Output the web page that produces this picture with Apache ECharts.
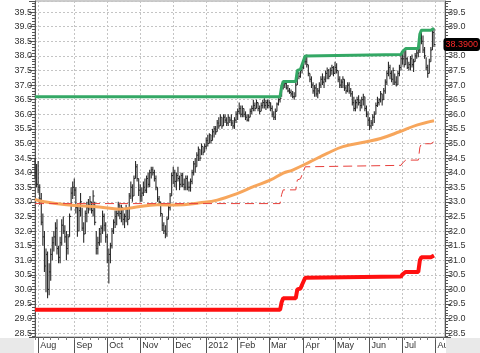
<!DOCTYPE html>
<html>
<head>
<meta charset="utf-8">
<script src="https://cdn.jsdelivr.net/npm/echarts@6/dist/echarts.min.js"></script>
<style>
  html, body { margin: 0; padding: 0; background: #fff; }
  #main { width: 480px; height: 353px; }
</style>
</head>
<body>
<div id="main"></div>
<script>
// month labels under the axis, and trading days per month
var monthLabels = ['Aug', 'Sep', 'Oct', 'Nov', 'Dec', '2012', 'Feb', 'Mar', 'Apr', 'May', 'Jun', 'Jul', 'Aug'];
var monthDays = [23, 21, 21, 21, 21, 20, 20, 22, 20, 22, 21, 21, 7];
var leadDays = 2; // last days of Jul 2011

// daily bars: [high, low, close]
var jul11 = [[34.5, 33.8, 34.0], [34.3, 33.5, 33.6]];
var aug11 = [[34.4, 33.3, 33.5], [33.6, 32.9, 33.1], [33.3, 32.2, 32.3], [32.6, 31.5, 31.8], [32.0, 30.6, 30.8],
  [31.4, 29.9, 31.2], [31.3, 29.7, 30.0], [30.9, 29.8, 30.6], [31.4, 30.3, 31.2], [31.8, 31.0, 31.6],
  [32.0, 31.3, 31.8], [32.3, 31.5, 32.1], [32.4, 31.2, 31.4], [31.5, 30.9, 31.1], [31.8, 30.9, 31.6],
  [32.4, 31.5, 32.2], [32.5, 31.9, 32.0], [32.2, 31.6, 31.8], [32.0, 31.0, 31.4], [31.9, 31.2, 31.8],
  [32.6, 31.8, 32.5], [33.5, 32.7, 33.3], [33.7, 33.1, 33.5]];
var sep11 = [[33.8, 33.2, 33.4], [33.5, 32.6, 32.8], [32.9, 31.8, 32.0], [32.9, 32.0, 32.7], [33.3, 32.5, 33.0],
  [32.8, 32.0, 32.1], [32.3, 31.6, 31.9], [32.7, 31.9, 32.6], [33.0, 32.3, 32.8], [33.1, 32.6, 32.9],
  [33.2, 32.7, 33.0], [33.0, 32.6, 32.7], [33.4, 32.5, 33.2], [33.0, 32.2, 32.3], [32.0, 31.2, 31.4],
  [31.8, 31.2, 31.6], [32.1, 31.5, 31.9], [32.2, 31.6, 32.1], [32.7, 31.9, 32.5], [32.6, 32.0, 32.2],
  [32.3, 31.6, 31.8]];
var oct11 = [[31.9, 30.9, 31.0], [31.4, 30.2, 31.2], [31.6, 30.9, 31.5], [32.1, 31.4, 32.0], [32.4, 31.9, 32.3],
  [32.7, 32.1, 32.5], [32.7, 32.2, 32.6], [33.0, 32.5, 32.9], [32.9, 32.4, 32.6], [32.9, 32.3, 32.8],
  [32.8, 32.2, 32.4], [32.6, 32.1, 32.5], [32.9, 32.3, 32.8], [32.8, 32.2, 32.4], [33.3, 32.4, 33.2],
  [33.7, 33.1, 33.5], [33.6, 33.0, 33.2], [33.9, 33.2, 33.8], [34.4, 33.8, 34.2], [34.3, 33.7, 33.8],
  [33.8, 33.2, 33.4]];
var nov11 = [[33.6, 33.0, 33.2], [33.5, 33.0, 33.3], [33.7, 33.2, 33.5], [33.8, 33.3, 33.4], [33.9, 33.3, 33.8],
  [34.0, 33.5, 33.6], [34.1, 33.5, 34.0], [34.2, 33.8, 34.1], [34.2, 33.9, 34.0], [34.1, 33.7, 33.8],
  [33.9, 33.4, 33.5], [33.5, 33.0, 33.1], [33.2, 32.9, 33.0], [33.0, 32.5, 32.6], [32.6, 32.0, 32.2],
  [32.3, 31.9, 32.0], [32.2, 31.75, 31.9], [32.5, 31.8, 32.4], [32.9, 32.4, 32.8], [33.3, 32.7, 33.2],
  [34.0, 33.2, 33.9]];
var dec11 = [[34.2, 33.6, 34.0], [34.1, 33.5, 33.7], [34.0, 33.4, 33.9], [34.2, 33.7, 33.8], [33.9, 33.4, 33.6],
  [34.0, 33.5, 33.9], [34.0, 33.5, 33.6], [33.8, 33.4, 33.5], [33.9, 33.4, 33.8], [33.9, 33.4, 33.5],
  [33.7, 33.35, 33.5], [33.8, 33.35, 33.7], [34.1, 33.6, 34.0], [34.4, 33.9, 34.3], [34.5, 34.0, 34.2],
  [34.7, 34.2, 34.6], [34.9, 34.4, 34.8], [34.8, 34.4, 34.5], [35.0, 34.6, 34.9], [34.9, 34.6, 34.7],
  [35.0, 34.7, 34.9]];
var jan12 = [[35.2, 34.8, 35.1], [35.3, 34.9, 35.0], [35.35, 35.0, 35.3], [35.3, 35.0, 35.1], [35.5, 35.1, 35.4],
  [35.6, 35.2, 35.5], [35.6, 35.3, 35.4], [35.8, 35.4, 35.7], [35.9, 35.5, 35.6], [36.0, 35.6, 35.9],
  [35.9, 35.5, 35.6], [36.0, 35.6, 35.9], [36.0, 35.7, 35.8], [35.9, 35.6, 35.7], [36.0, 35.6, 35.9],
  [35.9, 35.7, 35.8], [36.0, 35.6, 35.7], [35.8, 35.5, 35.6], [35.9, 35.5, 35.8], [36.1, 35.7, 36.0]];
var feb12 = [[36.2, 35.8, 36.1], [36.4, 36.0, 36.2], [36.3, 35.9, 36.0], [36.3, 35.9, 36.2], [36.2, 35.9, 36.0],
  [36.1, 35.8, 35.9], [36.0, 35.75, 35.8], [36.0, 35.75, 35.9], [36.2, 35.9, 36.1], [36.3, 36.0, 36.2],
  [36.5, 36.1, 36.3], [36.4, 36.1, 36.2], [36.5, 36.2, 36.4], [36.4, 36.1, 36.2], [36.3, 36.0, 36.1],
  [36.4, 36.1, 36.3], [36.5, 36.2, 36.4], [36.55, 36.2, 36.3], [36.5, 36.15, 36.4], [36.5, 36.2, 36.3]];
var mar12 = [[36.5, 36.2, 36.4], [36.4, 36.1, 36.2], [36.3, 35.9, 36.0], [36.1, 35.8, 35.9], [36.2, 35.8, 36.1],
  [36.4, 36.1, 36.35], [36.55, 36.3, 36.5], [36.6, 36.4, 36.55], [36.95, 36.6, 36.9], [37.12, 36.85, 37.0],
  [37.1, 36.9, 37.05], [37.1, 36.85, 36.9], [37.0, 36.75, 36.8], [36.9, 36.7, 36.75], [36.85, 36.6, 36.7],
  [36.8, 36.55, 36.6], [36.75, 36.5, 36.6], [37.1, 36.6, 37.0], [37.5, 37.0, 37.4], [37.45, 37.2, 37.3],
  [37.54, 37.25, 37.5], [37.7, 37.4, 37.6]];
var apr12 = [[37.85, 37.55, 37.8], [38.0, 37.7, 37.8], [38.05, 37.6, 37.7], [37.7, 37.3, 37.4], [37.4, 37.1, 37.2],
  [37.3, 36.9, 37.0], [37.1, 36.7, 36.8], [37.0, 36.6, 36.9], [37.05, 36.6, 36.7], [36.9, 36.55, 36.8],
  [37.1, 36.7, 37.0], [37.3, 36.9, 37.2], [37.4, 37.0, 37.1], [37.3, 36.9, 37.2], [37.5, 37.1, 37.4],
  [37.6, 37.2, 37.5], [37.55, 37.2, 37.3], [37.6, 37.3, 37.5], [37.7, 37.35, 37.6], [37.65, 37.3, 37.4]];
var may12 = [[37.8, 37.4, 37.6], [37.75, 37.4, 37.5], [37.5, 37.1, 37.2], [37.3, 36.9, 37.0], [37.2, 36.9, 37.1],
  [37.3, 36.9, 37.2], [37.2, 36.8, 36.9], [37.0, 36.7, 36.8], [37.1, 36.75, 37.0], [37.1, 36.7, 36.8],
  [36.9, 36.6, 36.7], [36.8, 36.3, 36.4], [36.6, 36.1, 36.2], [36.5, 36.1, 36.4], [36.6, 36.2, 36.5],
  [36.65, 36.3, 36.4], [36.5, 36.1, 36.3], [36.6, 36.2, 36.5], [36.7, 36.3, 36.6], [36.6, 36.1, 36.2],
  [36.3, 35.9, 36.0], [36.1, 35.6, 35.8]];
var jun12 = [[35.9, 35.46, 35.6], [35.8, 35.5, 35.7], [36.0, 35.6, 35.9], [36.1, 35.7, 36.0], [36.4, 36.0, 36.3],
  [36.6, 36.25, 36.4], [36.55, 36.3, 36.5], [36.8, 36.4, 36.7], [36.7, 36.3, 36.5], [36.9, 36.5, 36.8],
  [37.2, 36.7, 37.1], [37.5, 37.0, 37.4], [37.8, 37.3, 37.6], [37.7, 37.2, 37.4], [37.5, 37.1, 37.2],
  [37.6, 37.0, 37.5], [37.4, 37.0, 37.1], [37.3, 36.95, 37.0], [37.5, 37.0, 37.4], [37.7, 37.3, 37.6],
  [38.05, 37.5, 37.9]];
var jul12 = [[38.15, 37.7, 37.9], [38.2, 37.6, 37.7], [38.25, 37.7, 37.9], [37.95, 37.55, 37.6], [37.8, 37.5, 37.7],
  [38.0, 37.5, 37.9], [38.05, 37.6, 37.7], [37.9, 37.45, 37.8], [38.1, 37.8, 38.0], [38.2, 37.9, 38.1],
  [38.25, 37.95, 38.2], [38.75, 38.1, 38.6], [38.88, 38.4, 38.5], [38.7, 38.1, 38.2], [38.3, 37.9, 38.0],
  [37.95, 37.5, 37.6], [37.7, 37.25, 37.4], [37.9, 37.4, 37.8], [38.3, 37.8, 38.2], [38.9, 38.2, 38.8],
  [38.95, 38.3, 38.39]];

// channel lines, [day index, value] at each change
var upperBand = [[0, 36.6], [156, 36.6], [157, 36.95], [158, 37.12], [166, 37.12], [167, 37.5], [169, 37.54],
  [170, 37.7], [171, 37.85], [172, 38.0], [173, 38.05], [233, 38.05], [234, 38.15], [236, 38.25], [244, 38.25],
  [245, 38.75], [246, 38.88], [252, 38.88], [254, 38.95]];
var midBand = [[0, 32.94], [156, 32.94], [157, 33.25], [158, 33.41], [166, 33.41], [167, 33.75], [169, 33.79],
  [170, 33.93], [171, 34.06], [172, 34.2], [173, 34.25], [233, 34.25], [234, 34.33], [236, 34.43], [244, 34.43],
  [245, 34.87], [246, 34.99], [252, 34.99], [254, 35.06]];
var lowerBand = [[0, 29.3], [156, 29.3], [157, 29.56], [158, 29.7], [166, 29.7], [167, 30.0], [169, 30.03],
  [170, 30.16], [171, 30.28], [172, 30.4], [173, 30.44], [233, 30.44], [234, 30.52], [236, 30.6], [244, 30.6],
  [245, 31.0], [246, 31.1], [252, 31.1], [254, 31.16]];
// moving average
var maLine = [[0, 33.08], [6, 33.0], [20, 32.9], [41, 32.82], [54, 32.75], [62, 32.8], [78, 32.9], [90, 32.89],
  [105, 32.97], [116, 33.06], [129, 33.29], [139, 33.52], [150, 33.75], [158, 33.98], [164, 34.09], [175, 34.37],
  [186, 34.66], [196, 34.89], [211, 35.06], [220, 35.17], [232, 35.4], [243, 35.63], [254, 35.78]];

var bars = [].concat(jul11, aug11, sep11, oct11, nov11, dec11, jan12, feb12, mar12, apr12, may12, jun12, jul12);
var lastClose = bars[bars.length - 1][2];

// trading day categories
var categories = [];
var labelAt = {};
for (var k = 0; k < leadDays; k++) categories.push('Jul-' + (k + 1));
for (var m = 0; m < monthDays.length; m++) {
  labelAt[categories.length] = monthLabels[m];
  for (var d = 0; d < monthDays[m]; d++) categories.push(m + '-' + (d + 1));
}
var barData = bars.map(function (b, i) { return [i, b[0], b[1], b[2]]; });

function isMonthStart(index) { return labelAt[index] !== undefined; }

var font = 'Liberation Sans, Arial, sans-serif';
var gridDash = { color: '#c4c4c4', type: [2, 2], width: 1 };

function yAxisOf(pos) {
  return {
    type: 'value', position: pos, min: 28.37, max: 39.88,
    splitNumber: 23, minInterval: 0.5, maxInterval: 0.5,
    axisLine: { show: true, lineStyle: { color: '#555' } },
    axisTick: { show: true, length: 6, lineStyle: { color: '#555' } },
    minorTick: { show: true, splitNumber: 5, length: 3, lineStyle: { color: '#555' } },
    axisLabel: {
      color: '#333', fontSize: 9, fontFamily: font, margin: 3,
      showMinLabel: false, showMaxLabel: false,
      formatter: function (v) { return v.toFixed(1); }
    },
    splitLine: { show: pos === 'left', lineStyle: gridDash }
  };
}

var myChart = echarts.init(document.getElementById('main'));
var left = yAxisOf('left');
var right = yAxisOf('right');
right.axisPointer = {
  show: true, type: 'line', value: lastClose, status: 'show', snap: false, triggerTooltip: false,
  lineStyle: { opacity: 0 },
  label: {
    show: true, precision: 4, backgroundColor: '#000', color: '#ff2a2a',
    fontSize: 9, fontFamily: font, padding: [2, 2, 2, 2], margin: 1
  }
};

myChart.setOption({
  animation: false,
  backgroundColor: '#fff',
  axisPointer: { triggerOn: 'none' },
  grid: { left: 35, right: 35, top: 1, bottom: 16, show: true, borderColor: '#999', borderWidth: 1 },
  xAxis: [{
    type: 'category', data: categories, boundaryGap: false,
    axisLine: { lineStyle: { color: '#555' } },
    axisTick: { interval: isMonthStart, length: 16, lineStyle: { color: '#555' } },
    axisLabel: {
      interval: isMonthStart, align: 'left', margin: 4, padding: [0, 0, 0, 2],
      color: '#333', fontSize: 9, fontFamily: font,
      formatter: function (v, i) { return labelAt[i] || ''; }
    },
    splitLine: { show: true, interval: isMonthStart, lineStyle: gridDash }
  }, {
    type: 'category', data: categories, boundaryGap: false, position: 'bottom',
    axisLine: { show: false },
    axisTick: { interval: 4, length: 3, lineStyle: { color: '#777' } },
    axisLabel: { show: false },
    splitLine: { show: false }
  }],
  yAxis: [left, right],
  graphic: [
    { type: 'rect', left: 0, bottom: 0, shape: { width: 34, height: 15 }, style: { fill: '#e9e9e9' }, z: 100 },
    { type: 'rect', right: 0, bottom: 0, shape: { width: 34, height: 15 }, style: { fill: '#e9e9e9' }, z: 100 }
  ],
  series: [{
    type: 'custom',
    data: barData,
    encode: { x: 0, y: [1, 2] },
    renderItem: function (params, api) {
      var hi = api.coord([api.value(0), api.value(1)]);
      var lo = api.coord([api.value(0), api.value(2)]);
      var cl = api.coord([api.value(0), api.value(3)]);
      var st = { stroke: '#2a2a2a', lineWidth: 1.1 };
      return {
        type: 'group',
        children: [
          { type: 'line', shape: { x1: hi[0], y1: hi[1], x2: lo[0], y2: lo[1] }, style: st },
          { type: 'line', shape: { x1: cl[0], y1: cl[1], x2: cl[0] + 1.5, y2: cl[1] }, style: st }
        ]
      };
    },
    z: 2
  }, {
    type: 'line', data: maLine, smooth: 0.4, showSymbol: false,
    lineStyle: { color: '#f7a65c', width: 3 }, z: 3
  }, {
    type: 'line', data: midBand, showSymbol: false,
    lineStyle: { color: '#e8403c', width: 1, type: [9, 5] }, z: 3
  }, {
    type: 'line', data: upperBand, showSymbol: false,
    lineStyle: { color: '#34a865', width: 3 }, z: 4
  }, {
    type: 'line', data: lowerBand, showSymbol: false,
    lineStyle: { color: '#ff1010', width: 4 }, z: 4
  }]
});
</script>
</body>
</html>
